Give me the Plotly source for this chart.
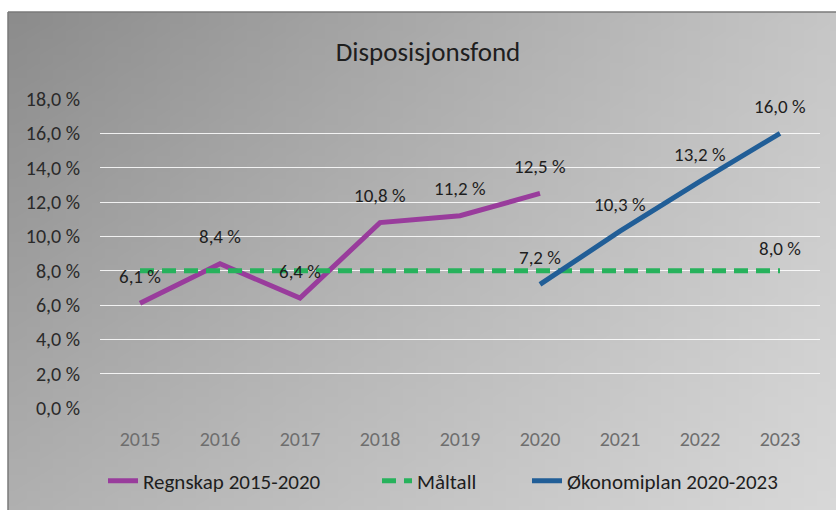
import base64
import struct
import zlib

import plotly.graph_objects as go

# ---------------- data ----------------
years = [2015, 2016, 2017, 2018, 2019, 2020, 2021, 2022, 2023]
regnskap_years = [2015, 2016, 2017, 2018, 2019, 2020]
regnskap_values = [6.1, 8.4, 6.4, 10.8, 11.2, 12.5]
maltall_values = [8.0, 8.0, 8.0, 8.0, 8.0, 8.0, 8.0, 8.0, 8.0]
plan_years = [2020, 2021, 2022, 2023]
plan_values = [7.2, 10.3, 13.2, 16.0]
y_tickvals = [0, 2, 4, 6, 8, 10, 12, 14, 16, 18]
y_ticktext = ["0,0 %", "2,0 %", "4,0 %", "6,0 %", "8,0 %", "10,0 %",
              "12,0 %", "14,0 %", "16,0 %", "18,0 %"]
title_text = "Disposisjonsfond"
names = ["Regnskap 2015-2020", "Måltall", "Økonomiplan 2020-2023"]

W, H = 836, 510
FONT = "Carlito, Lato, sans-serif"


def fmt(v):
    return f"{v:.1f}".replace(".", ",") + " %"


# ------------- gradient background as PNG -------------
def gradient_png(w=64, h=64, tl=140, tr=198, bl=176, br=216):
    rows = b""
    for j in range(h):
        t = j / (h - 1)
        row = b"\x00"
        for i in range(w):
            s = i / (w - 1)
            v = tl * (1 - s) * (1 - t) + tr * s * (1 - t) + bl * (1 - s) * t + br * s * t
            g = int(round(v))
            row += bytes([g, g, g])
        rows += row

    def chunk(tag, data):
        c = tag + data
        return struct.pack(">I", len(data)) + c + struct.pack(">I", zlib.crc32(c) & 0xFFFFFFFF)

    png = b"\x89PNG\r\n\x1a\n"
    png += chunk(b"IHDR", struct.pack(">IIBBBBB", w, h, 8, 2, 0, 0, 0))
    png += chunk(b"IDAT", zlib.compress(rows, 9))
    png += chunk(b"IEND", b"")
    return "data:image/png;base64," + base64.b64encode(png).decode()


fig = go.Figure()

fig.add_trace(go.Scatter(
    x=regnskap_years, y=regnskap_values, mode="lines", name=names[0], legend="legend",
    line=dict(color="#993c9c", width=5), hoverinfo="skip"))
fig.add_trace(go.Scatter(
    x=years, y=maltall_values, mode="lines", name=names[1], legend="legend2",
    line=dict(color="#27b25c", width=5, dash="14px,8px"), hoverinfo="skip"))
fig.add_trace(go.Scatter(
    x=plan_years, y=plan_values, mode="lines", name=names[2], legend="legend3",
    line=dict(color="#215e97", width=5), hoverinfo="skip"))

annotations = []
label_font = dict(family=FONT, size=19, color="#1e1e1e")
for xs, ys in ((regnskap_years, regnskap_values), (plan_years, plan_values)):
    for xv, yv in zip(xs, ys):
        annotations.append(dict(x=xv, y=yv, text=fmt(yv), showarrow=False,
                                xref="x", yref="y", yshift=27, font=label_font))
annotations.append(dict(x=years[-1], y=maltall_values[-1], text=fmt(maltall_values[-1]),
                        showarrow=False, xref="x", yref="y", yshift=22, font=label_font))

x0, x1 = 100 / W, 820 / W
y0, y1 = 1 - 408 / H, 1 - 99 / H

legend_font = dict(family=FONT, size=21, color="#1e1e1e")
ly = 1 - 481 / H


def leg(text_start):
    return dict(orientation="h", xref="container", yref="container",
                x=(text_start - 42) / W, xanchor="left", y=ly,
                yanchor="middle", bgcolor="rgba(0,0,0,0)", font=legend_font,
                itemwidth=30)


fig.update_layout(
    width=W, height=H,
    margin=dict(l=0, r=0, t=0, b=0, autoexpand=False),
    paper_bgcolor="white",
    plot_bgcolor="rgba(0,0,0,0)",
    font=dict(family=FONT, color="#222"),
    title=dict(text=title_text, x=428 / W, xanchor="center", y=1 - 52 / H,
               yanchor="middle", yref="container",
               font=dict(family=FONT, size=27, color="#1e1e1e")),
    xaxis=dict(domain=[x0, x1], range=[2014.5, 2023.5], tickvals=years,
               ticktext=[str(y) for y in years], showgrid=False, zeroline=False,
               showline=False, ticks="", ticklabelstandoff=17, automargin=False,
               tickfont=dict(family=FONT, size=20, color="#6e6e6e")),
    yaxis=dict(domain=[y0, y1], range=[0, 18], tickvals=y_tickvals, ticktext=y_ticktext,
               showgrid=True, gridcolor="rgba(255,255,255,0.85)", gridwidth=1.3,
               zeroline=False, showline=False, ticks="", ticklabelstandoff=19,
               automargin=False,
               tickfont=dict(family=FONT, size=20, color="#2a2a2a")),
    legend=leg(145),
    legend2=leg(419),
    legend3=leg(569),
    images=[dict(source=gradient_png(), xref="paper", yref="paper",
                 x=8 / W, y=1 - 12 / H, sizex=1 - 8 / W, sizey=1 - 12 / H,
                 sizing="stretch", xanchor="left", yanchor="top", layer="below")],
    shapes=[
        dict(type="line", xref="paper", yref="paper", x0=8 / W, x1=1,
             y0=1 - 12 / H, y1=1 - 12 / H, line=dict(color="#7a7a7a", width=1.5),
             layer="above"),
        dict(type="line", xref="paper", yref="paper", x0=8 / W, x1=8 / W,
             y0=0, y1=1 - 12 / H, line=dict(color="#7a7a7a", width=1.5),
             layer="above"),
    ],
    annotations=annotations,
    showlegend=True,
)

fig.write_html(
    "out.html",
    config={"displayModeBar": False},
    post_script=(
        "document.body.style.margin='0';document.body.style.padding='0';"
        "document.body.style.overflow='hidden';"
    ),
)
